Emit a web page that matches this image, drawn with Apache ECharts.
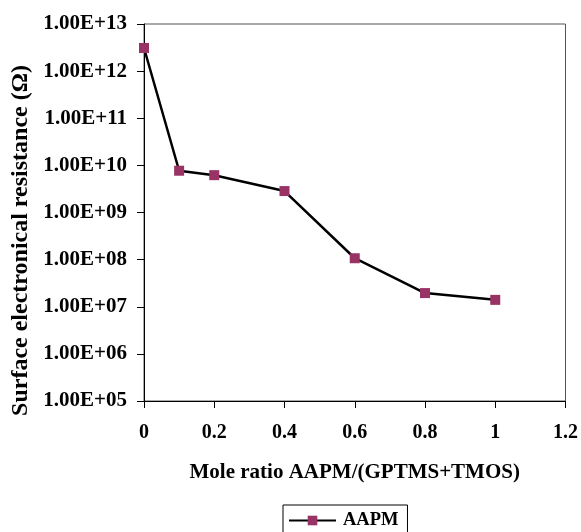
<!DOCTYPE html>
<html>
<head>
<meta charset="utf-8">
<script src="https://cdn.jsdelivr.net/npm/echarts@6/dist/echarts.min.js"></script>
<style>
  html, body { margin: 0; padding: 0; background: #fff; }
  #main { width: 581px; height: 532px; }
</style>
</head>
<body>
<div id="main"></div>
<script>
// Data
const moleRatio = [0, 0.1, 0.2, 0.4, 0.6, 0.8, 1.0];
const resistance = [3.1e12, 7.7e9, 6.2e9, 2.85e9, 1.07e8, 1.95e7, 1.4e7];
const seriesName = 'AAPM';

const chart = echarts.init(document.getElementById('main'));
const font = 'Liberation Serif';

// Excel-like scientific label: 1.00E+09
const sciLabel = (v) => {
  const exp = Math.round(Math.log10(v));
  const mant = v / Math.pow(10, exp);
  return mant.toFixed(2) + 'E' + (exp < 0 ? '-' : '+') + String(Math.abs(exp)).padStart(2, '0');
};

const option = {
  animation: false,
  grid: {
    left: 144,
    top: 24,
    right: 14,
    bottom: 131,
    show: true,
    borderColor: '#555',
    borderWidth: 1
  },
  legend: {
    data: [seriesName],
    left: 283,
    top: 505,
    itemWidth: 47,
    itemHeight: 12,
    itemGap: 5,
    padding: [6, 9, 10, 5],
    borderColor: '#000',
    borderWidth: 1,
    textStyle: { fontFamily: font, fontWeight: 'bold', fontSize: 18.5, color: '#000', padding: [0, 0, 0, 2] }
  },
  xAxis: {
    type: 'value',
    min: 0,
    max: 1.2,
    interval: 0.2,
    name: 'Mole ratio AAPM/(GPTMS+TMOS)',
    nameLocation: 'middle',
    nameGap: 61,
    nameTextStyle: { fontFamily: font, fontWeight: 'bold', fontSize: 21, color: '#000' },
    axisLine: { lineStyle: { color: '#000', width: 1 } },
    axisTick: { show: true, inside: false, length: 7, lineStyle: { color: '#000' } },
    splitLine: { show: false },
    axisLabel: {
      margin: 22,
      fontFamily: font, fontWeight: 'bold', fontSize: 20, color: '#000',
      formatter: v => String(Math.round(v * 10) / 10)
    }
  },
  yAxis: {
    type: 'log',
    logBase: 10,
    min: 1e5,
    max: 1e13,
    interval: 1,
    name: 'Surface electronical resistance (Ω)',
    nameLocation: 'middle',
    nameGap: 103,
    nameTextStyle: {
      fontFamily: font, fontWeight: 'bold', fontSize: 24, color: '#000',
      padding: [0, 56, 0, 0]
    },
    axisLine: { show: true, lineStyle: { color: '#000', width: 1 } },
    axisTick: { show: true, inside: false, length: 7, lineStyle: { color: '#000' } },
    splitLine: { show: false },
    minorTick: { show: false },
    axisLabel: {
      margin: 17,
      fontFamily: font, fontWeight: 'bold', fontSize: 21, color: '#000',
      formatter: sciLabel
    }
  },
  series: [
    {
      name: seriesName,
      type: 'line',
      data: moleRatio.map((x, i) => [x, resistance[i]]),
      symbol: 'rect',
      symbolSize: 10,
      itemStyle: { color: '#993366' },
      lineStyle: { color: '#000', width: 2.5 }
    }
  ]
};

chart.setOption(option);
</script>
</body>
</html>
